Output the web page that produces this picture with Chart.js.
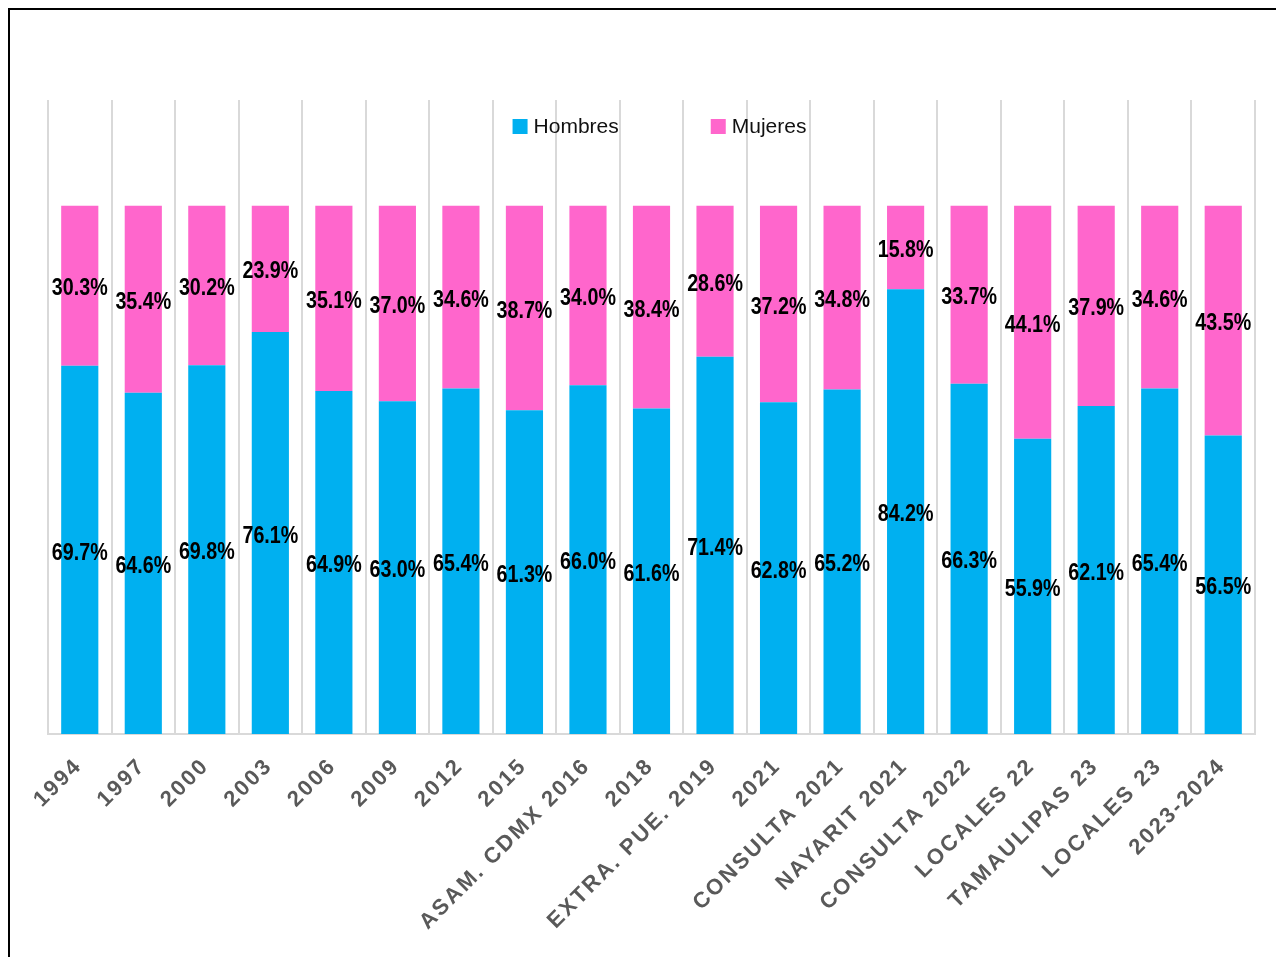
<!DOCTYPE html>
<html><head><meta charset="utf-8">
<script src="https://cdn.jsdelivr.net/npm/chart.js@4.4.1/dist/chart.umd.min.js"></script>
<style>
html,body{margin:0;padding:0;background:#fff;overflow:hidden;width:1276px;height:957px}
#frame{position:absolute;left:8px;top:8px;width:1400px;height:1100px;border:2px solid #000;box-sizing:border-box}
canvas{position:absolute;left:0;top:0}
</style></head><body>
<div id="frame"></div>
<canvas id="c" width="1276" height="957"></canvas>
<script>
const categories = ['1994','1997','2000','2003','2006','2009','2012','2015','ASAM. CDMX 2016','2018','EXTRA. PUE. 2019','2021','CONSULTA 2021','NAYARIT 2021','CONSULTA 2022','LOCALES 22','TAMAULIPAS 23','LOCALES 23','2023-2024'];
const hombres = [69.7,64.6,69.8,76.1,64.9,63.0,65.4,61.3,66.0,61.6,71.4,62.8,65.2,84.2,66.3,55.9,62.1,65.4,56.5];
const mujeres = [30.3,35.4,30.2,23.9,35.1,37.0,34.6,38.7,34.0,38.4,28.6,37.2,34.8,15.8,33.7,44.1,37.9,34.6,43.5];
const seriesNames = ['Hombres','Mujeres'];
const seriesColors = ['#00B0F0','#FF66CC'];

function hasFont(name){
  const c=document.createElement('canvas').getContext('2d');
  c.font='bold 24px monospace'; const a=c.measureText('30.3%MWi').width;
  c.font='bold 24px "'+name+'", monospace'; const b=c.measureText('30.3%MWi').width;
  return Math.abs(a-b)>0.5;
}
const narrow = hasFont('Liberation Sans Narrow');
const labelFont = narrow ? 'bold 24px "Liberation Sans Narrow"' : 'bold 24px "Liberation Sans", Arial, sans-serif';
const labelScale = narrow ? 1 : 0.82;

const letterSpacingPlugin = {
  id:'ls',
  afterLayout(chart){
    const s=chart.scales.x;
    if(s && !s._lsPatched){
      const orig=s.drawLabels.bind(s);
      s.drawLabels=function(a){ const ctx=chart.ctx; ctx.save(); ctx.letterSpacing='2.3px'; orig(a); ctx.restore(); };
      s._lsPatched=true;
    }
  }
};

const valueLabels = {
  id:'valueLabels',
  afterDatasetsDraw(chart){
    const ctx=chart.ctx;
    ctx.save();
    ctx.letterSpacing='0px';
    ctx.font=labelFont; ctx.fillStyle='#000'; ctx.textAlign='center'; ctx.textBaseline='middle';
    chart.data.datasets.forEach((ds,di)=>{
      const meta=chart.getDatasetMeta(di);
      meta.data.forEach((el,i)=>{
        const p=el.getProps(['x','y','base'],true);
        const cy=(p.y+p.base)/2;
        ctx.save(); ctx.translate(p.x,cy); ctx.scale(labelScale,1);
        ctx.fillText(ds.data[i].toFixed(1)+'%',0,3);
        ctx.restore();
      });
    });
    ctx.restore();
  }
};

const customLegend = {
  id:'customLegend',
  afterDraw(chart){
    const ctx=chart.ctx, a=chart.chartArea;
    ctx.save();
    ctx.letterSpacing='0px';
    ctx.font='21px "Liberation Sans", Arial, sans-serif';
    const box=15, gap=6, spacing=92;
    const items=chart.data.datasets.map(d=>({t:d.label,c:d.backgroundColor,w:box+gap+ctx.measureText(d.label).width}));
    const total=items.reduce((s,it)=>s+it.w,0)+spacing*(items.length-1);
    let x=(a.left+a.right)/2+8-total/2;
    const y=a.top+19;
    items.forEach(it=>{
      ctx.fillStyle=it.c; ctx.fillRect(x,y,box,box);
      ctx.fillStyle='#111'; ctx.textAlign='left'; ctx.textBaseline='middle';
      ctx.fillText(it.t,x+box+gap,y+box/2+1);
      x+=it.w+spacing;
    });
    ctx.restore();
  }
};

new Chart(document.getElementById('c'),{
  type:'bar',
  data:{labels:categories,datasets:[
    {label:seriesNames[0],data:hombres,backgroundColor:seriesColors[0],categoryPercentage:1,barPercentage:0.585},
    {label:seriesNames[1],data:mujeres,backgroundColor:seriesColors[1],categoryPercentage:1,barPercentage:0.585}
  ]},
  options:{
    responsive:false,animation:false,devicePixelRatio:1,
    layout:{padding:{left:48,right:21,top:100,bottom:0}},
    plugins:{legend:{display:false},tooltip:{enabled:false},title:{display:false}},
    scales:{
      x:{stacked:true,
        grid:{color:'#d9d9d9',lineWidth:2,drawTicks:false,offset:true},
        border:{color:'#d9d9d9',width:2},
        ticks:{color:'#595959',font:{family:'"Liberation Sans", Arial, sans-serif',size:22,weight:'bold'},
          minRotation:45,maxRotation:45,padding:19,labelOffset:-1,autoSkip:false},
        afterFit(s){ s.height=223; }
      },
      y:{stacked:true,display:false,min:0,max:120}
    }
  },
  plugins:[letterSpacingPlugin,valueLabels,customLegend]
});
</script>
</body></html>
